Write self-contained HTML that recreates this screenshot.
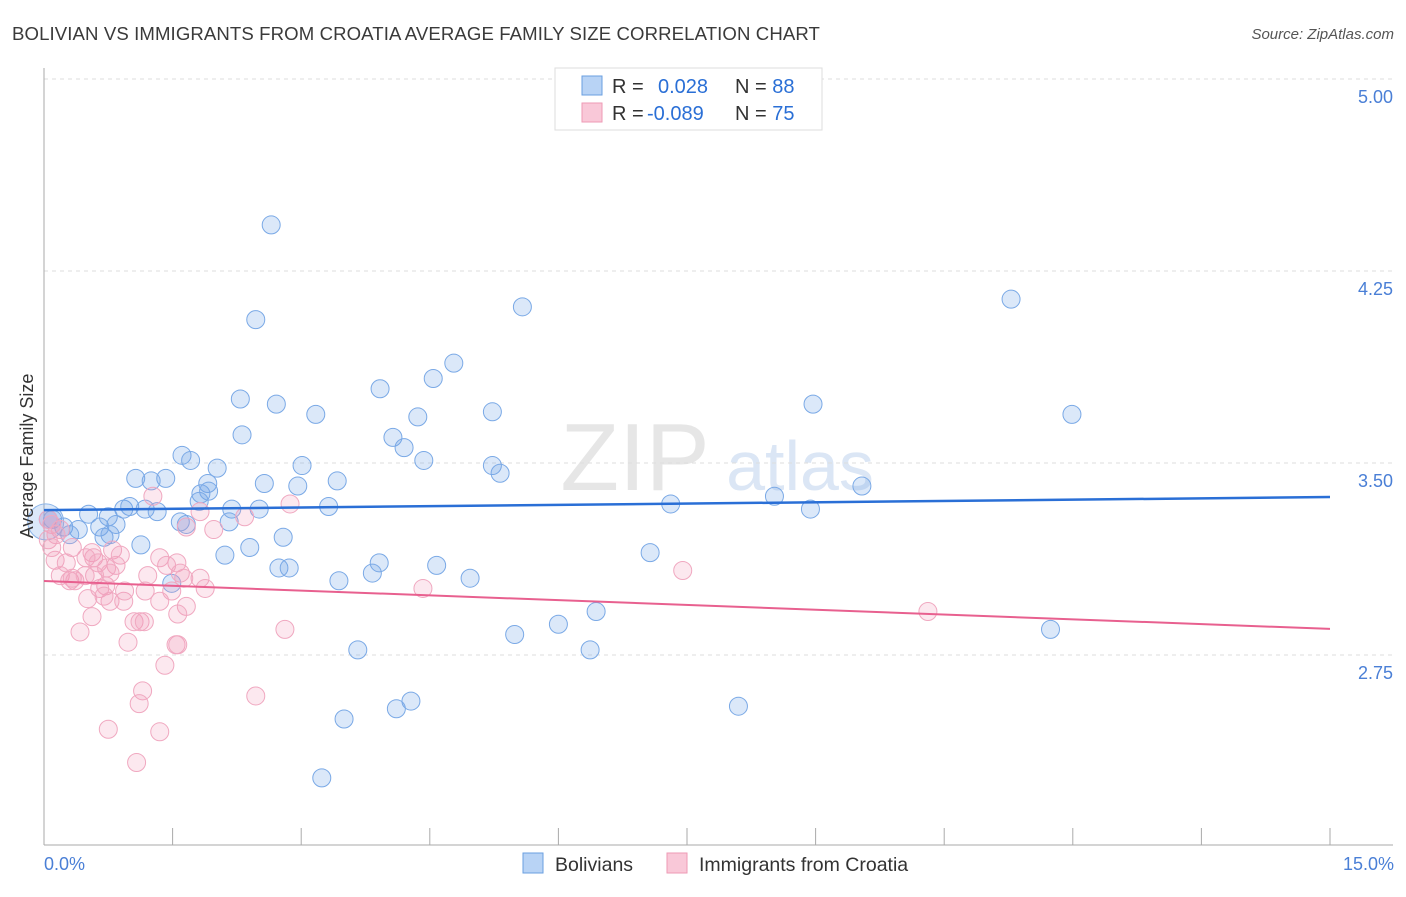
<!DOCTYPE html>
<html><head><meta charset="utf-8"><style>
body{margin:0;background:#fff;font-family:"Liberation Sans",sans-serif;}
svg text{font-family:"Liberation Sans",sans-serif;}
</style></head><body>
<svg id="chart" width="1406" height="892">
<text x="12" y="40" font-size="18.6" letter-spacing="0.1" fill="#3a3a3a">BOLIVIAN VS IMMIGRANTS FROM CROATIA AVERAGE FAMILY SIZE CORRELATION CHART</text>
<text x="1394" y="39" font-size="15" font-style="italic" fill="#555" text-anchor="end">Source: ZipAtlas.com</text>
<g><text x="635" y="490" font-size="96" font-family="Liberation Serif" fill="#e6e6e6" text-anchor="middle">ZIP</text><text x="800" y="490" font-size="70" fill="#dbe6f5" text-anchor="middle">atlas</text></g>
<g id="grid"></g><g id="axes"></g><g id="pts"></g><g id="lines"></g>
<text transform="translate(33,456) rotate(-90)" font-size="18" fill="#333" text-anchor="middle">Average Family Size</text>
<text x="44" y="870" font-size="18" fill="#4a7fd6">0.0%</text>
<text x="1394" y="870" font-size="18" fill="#4a7fd6" text-anchor="end">15.0%</text>
<g>
<rect x="555" y="68" width="267" height="62" fill="#fff" stroke="#ddd"/>
<rect x="582" y="76" width="20" height="19" fill="#b8d3f5" stroke="#6a9fe0"/>
<rect x="582" y="103" width="20" height="19" fill="#f9c8d8" stroke="#ee9ab5"/>
<text x="612" y="93" font-size="20" fill="#333">R = <tspan fill="#2a6fd6" x="658">0.028</tspan><tspan fill="#333" x="735">N = </tspan><tspan fill="#2a6fd6">88</tspan></text>
<text x="612" y="120" font-size="20" fill="#333">R = <tspan fill="#2a6fd6" x="647">-0.089</tspan><tspan fill="#333" x="735">N = </tspan><tspan fill="#2a6fd6">75</tspan></text>
</g>
<g>
<rect x="523" y="853" width="20" height="20" fill="#b8d3f5" stroke="#6a9fe0"/>
<text x="555" y="871" font-size="19.5" fill="#333">Bolivians</text>
<rect x="667" y="853" width="20" height="20" fill="#f9c8d8" stroke="#ee9ab5"/>
<text x="699" y="871" font-size="19.5" fill="#333">Immigrants from Croatia</text>
</g>
</svg>
<script>
const yTicks=[5.00,4.25,3.50,2.75];
const yTickLabels=["5.00","4.25","3.50","2.75"];
const xTicks=[0,1.5,3,4.5,6,7.5,9,10.5,12,13.5,15];
const blueX=[2.65,2.47,5.58,11.28,4.78,4.54,3.92,2.29,2.71,3.17,4.36,5.23,8.97,11.99,2.31,4.07,4.20,1.61,1.71,4.43,2.02,3.01,5.23,5.32,1.07,1.42,1.25,2.57,3.42,1.91,2.96,1.83,1.92,9.54,8.52,1.81,0.93,1.00,1.18,0.52,0.75,1.32,2.19,2.51,3.32,7.31,8.94,1.59,1.66,2.16,0.84,0.65,0.23,0.40,0.10,0.05,0.30,0.70,0.77,2.79,1.13,2.40,2.11,7.07,3.91,4.58,2.74,2.86,3.83,4.97,3.44,1.49,6.44,6.00,5.49,11.74,3.66,6.37,4.28,4.11,8.10,3.50,3.24];
const blueY=[4.43,4.06,4.11,4.14,3.89,3.83,3.79,3.75,3.73,3.69,3.68,3.70,3.73,3.69,3.61,3.60,3.56,3.53,3.51,3.51,3.48,3.49,3.49,3.46,3.44,3.44,3.43,3.42,3.43,3.42,3.41,3.38,3.39,3.41,3.37,3.35,3.32,3.33,3.32,3.30,3.29,3.31,3.32,3.32,3.33,3.34,3.32,3.27,3.26,3.27,3.26,3.25,3.25,3.24,3.28,3.28,3.22,3.21,3.22,3.21,3.18,3.17,3.14,3.15,3.11,3.10,3.09,3.09,3.07,3.05,3.04,3.03,2.92,2.87,2.83,2.85,2.77,2.77,2.57,2.54,2.55,2.50,2.27];
const pinkX=[1.27,1.82,2.34,1.98,2.87,1.66,0.05,0.09,0.19,0.14,0.33,0.56,0.80,0.89,0.58,0.49,0.13,0.26,0.63,0.84,1.35,1.55,1.43,0.73,1.59,1.82,1.21,1.63,0.19,0.30,0.36,0.33,0.72,0.65,1.18,1.49,1.88,0.51,0.77,0.93,0.70,1.66,1.56,7.45,4.42,0.56,1.05,1.12,1.17,0.42,0.98,1.54,1.56,2.81,1.41,2.47,1.15,1.11,0.75,1.35,1.08,10.31,0.05,0.09,0.77,0.94,1.35,0.59,0.48];
const pinkY=[3.37,3.31,3.29,3.24,3.34,3.25,3.28,3.26,3.24,3.22,3.17,3.15,3.16,3.14,3.13,3.13,3.12,3.11,3.11,3.10,3.13,3.11,3.10,3.09,3.07,3.05,3.06,3.05,3.06,3.04,3.04,3.05,3.02,3.01,3.00,3.00,3.01,2.97,2.96,2.96,2.98,2.94,2.91,3.08,3.01,2.90,2.88,2.88,2.88,2.84,2.80,2.79,2.79,2.85,2.71,2.59,2.61,2.56,2.46,2.45,2.33,2.92,3.20,3.17,3.07,3.00,2.96,3.06,3.06];
const blueTrend=[3.316,3.367];
const pinkTrend=[3.039,2.852];
const X0=44,X1=1330,Y5=79;
const sx=v=>X0+(v/15)*(X1-X0);
const sy=v=>Y5+(5-v)*256;
const NS="http://www.w3.org/2000/svg";
function mk(tag,parent,attrs){const e=document.createElementNS(NS,tag);for(const k in attrs)e.setAttribute(k,attrs[k]);document.getElementById(parent).appendChild(e);return e;}
yTicks.forEach((t,i)=>{
 const l=mk('line','grid',{x1:44,x2:1393,y1:sy(t),y2:sy(t),stroke:'#ddd','stroke-dasharray':'4,4'});
 
 
 const tx=mk('text','grid',{x:1393,y:sy(t)+24,'font-size':18,fill:'#4a7fd6','text-anchor':'end'});
 tx.textContent=yTickLabels[i];
 
 
});
const ax=mk('line','axes',{x1:44,x2:44,y1:68,y2:845,stroke:'#aaa'});


const bx=mk('line','axes',{x1:44,x2:1393,y1:845,y2:845,stroke:'#aaa'});


xTicks.forEach(t=>{
 const l=mk('line','axes',{x1:sx(t),x2:sx(t),y1:828,y2:845,stroke:'#aaa'});
 
 
});
const bg=mk('circle','pts',{cx:sx(0.02),cy:sy(3.27),r:18,fill:'rgba(110,165,230,0.25)',stroke:'#8ab4e8'});


blueX.forEach((x,i)=>{
 const c=mk('circle','pts',{cx:sx(x),cy:sy(blueY[i]),r:9,fill:'rgba(110,165,230,0.25)',stroke:'#7aa9e6','stroke-width':1});
 
 
});
pinkX.forEach((x,i)=>{
 const c=mk('circle','pts',{cx:sx(x),cy:sy(pinkY[i]),r:9,fill:'rgba(240,150,180,0.22)',stroke:'#f0a8c0','stroke-width':1});
 
 
});
const bl=mk('line','lines',{x1:sx(0),x2:sx(15),y1:sy(blueTrend[0]),y2:sy(blueTrend[1]),stroke:'#2a6fd6','stroke-width':2.5});


const pl=mk('line','lines',{x1:sx(0),x2:sx(15),y1:sy(pinkTrend[0]),y2:sy(pinkTrend[1]),stroke:'#e8608f','stroke-width':2});


</script>
</body></html>
